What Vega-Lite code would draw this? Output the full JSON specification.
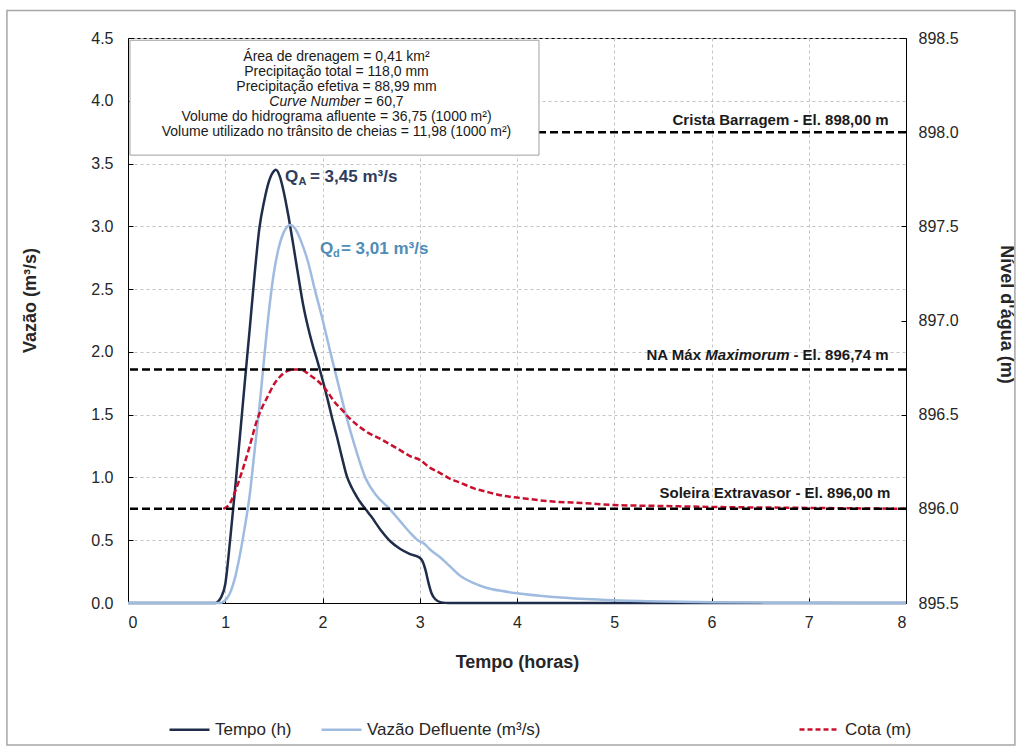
{
  "$schema": "https://vega.github.io/schema/vega-lite/v6.json",
  "width": 778,
  "height": 565,
  "autosize": {"type": "none"},
  "padding": {"left": 128, "top": 38, "right": 116, "bottom": 150},
  "background": "white",
  "config": {
    "font": "Liberation Sans",
    "view": {"stroke": "black", "strokeWidth": 1},
    "axis": {
      "labelFont": "Liberation Sans", "labelFontSize": 16, "labelColor": "#262626",
      "titleFont": "Liberation Sans", "titleFontSize": 18, "titleFontWeight": "bold", "titleColor": "#262626",
      "domainColor": "black", "domainWidth": 1, "tickColor": "black", "tickSize": -5, "tickWidth": 1,
      "gridColor": "#C4C4C4", "gridDash": [3, 3], "gridWidth": 1
    },
    "legend": {
      "labelFont": "Liberation Sans", "labelFontSize": 17, "labelColor": "#262626", "labelLimit": 400,
      "symbolType": "stroke", "symbolSize": 1600, "symbolStrokeWidth": 2.5, "labelOffset": 4
    }
  },
  "datasets": {
    "flow": [
      {"t": 0, "series": "Tempo (h)", "q": 0}, {"t": 0.9, "series": "Tempo (h)", "q": 0},
      {"t": 0.93, "series": "Tempo (h)", "q": 0.015}, {"t": 0.96, "series": "Tempo (h)", "q": 0.05},
      {"t": 1.0, "series": "Tempo (h)", "q": 0.15}, {"t": 1.05, "series": "Tempo (h)", "q": 0.5},
      {"t": 1.1, "series": "Tempo (h)", "q": 0.9}, {"t": 1.15, "series": "Tempo (h)", "q": 1.32},
      {"t": 1.2, "series": "Tempo (h)", "q": 1.75}, {"t": 1.25, "series": "Tempo (h)", "q": 2.17},
      {"t": 1.3, "series": "Tempo (h)", "q": 2.6}, {"t": 1.35, "series": "Tempo (h)", "q": 2.98},
      {"t": 1.4, "series": "Tempo (h)", "q": 3.2}, {"t": 1.45, "series": "Tempo (h)", "q": 3.36},
      {"t": 1.5, "series": "Tempo (h)", "q": 3.44}, {"t": 1.52, "series": "Tempo (h)", "q": 3.45},
      {"t": 1.56, "series": "Tempo (h)", "q": 3.4}, {"t": 1.6, "series": "Tempo (h)", "q": 3.28},
      {"t": 1.65, "series": "Tempo (h)", "q": 3.08}, {"t": 1.7, "series": "Tempo (h)", "q": 2.85},
      {"t": 1.75, "series": "Tempo (h)", "q": 2.61}, {"t": 1.8, "series": "Tempo (h)", "q": 2.38},
      {"t": 1.85, "series": "Tempo (h)", "q": 2.2}, {"t": 1.9, "series": "Tempo (h)", "q": 2.05},
      {"t": 1.95, "series": "Tempo (h)", "q": 1.92}, {"t": 2.0, "series": "Tempo (h)", "q": 1.78},
      {"t": 2.05, "series": "Tempo (h)", "q": 1.63}, {"t": 2.1, "series": "Tempo (h)", "q": 1.47},
      {"t": 2.15, "series": "Tempo (h)", "q": 1.32}, {"t": 2.2, "series": "Tempo (h)", "q": 1.16},
      {"t": 2.25, "series": "Tempo (h)", "q": 1.01}, {"t": 2.3, "series": "Tempo (h)", "q": 0.92},
      {"t": 2.35, "series": "Tempo (h)", "q": 0.85}, {"t": 2.4, "series": "Tempo (h)", "q": 0.79},
      {"t": 2.45, "series": "Tempo (h)", "q": 0.74}, {"t": 2.5, "series": "Tempo (h)", "q": 0.69},
      {"t": 2.6, "series": "Tempo (h)", "q": 0.58}, {"t": 2.7, "series": "Tempo (h)", "q": 0.49},
      {"t": 2.8, "series": "Tempo (h)", "q": 0.43}, {"t": 2.9, "series": "Tempo (h)", "q": 0.39},
      {"t": 3.0, "series": "Tempo (h)", "q": 0.36}, {"t": 3.03, "series": "Tempo (h)", "q": 0.33},
      {"t": 3.06, "series": "Tempo (h)", "q": 0.26}, {"t": 3.09, "series": "Tempo (h)", "q": 0.16},
      {"t": 3.12, "series": "Tempo (h)", "q": 0.08}, {"t": 3.16, "series": "Tempo (h)", "q": 0.03},
      {"t": 3.22, "series": "Tempo (h)", "q": 0.005}, {"t": 3.3, "series": "Tempo (h)", "q": 0},
      {"t": 8, "series": "Tempo (h)", "q": 0},
      {"t": 0, "series": "Vazão Defluente (m³/s)", "q": 0}, {"t": 0.95, "series": "Vazão Defluente (m³/s)", "q": 0},
      {"t": 0.98, "series": "Vazão Defluente (m³/s)", "q": 0.01}, {"t": 1.02, "series": "Vazão Defluente (m³/s)", "q": 0.04},
      {"t": 1.06, "series": "Vazão Defluente (m³/s)", "q": 0.1}, {"t": 1.1, "series": "Vazão Defluente (m³/s)", "q": 0.2},
      {"t": 1.15, "series": "Vazão Defluente (m³/s)", "q": 0.38}, {"t": 1.2, "series": "Vazão Defluente (m³/s)", "q": 0.6},
      {"t": 1.25, "series": "Vazão Defluente (m³/s)", "q": 0.85}, {"t": 1.3, "series": "Vazão Defluente (m³/s)", "q": 1.2},
      {"t": 1.35, "series": "Vazão Defluente (m³/s)", "q": 1.55}, {"t": 1.4, "series": "Vazão Defluente (m³/s)", "q": 1.95},
      {"t": 1.45, "series": "Vazão Defluente (m³/s)", "q": 2.33}, {"t": 1.5, "series": "Vazão Defluente (m³/s)", "q": 2.63},
      {"t": 1.55, "series": "Vazão Defluente (m³/s)", "q": 2.83}, {"t": 1.6, "series": "Vazão Defluente (m³/s)", "q": 2.95},
      {"t": 1.67, "series": "Vazão Defluente (m³/s)", "q": 3.01}, {"t": 1.72, "series": "Vazão Defluente (m³/s)", "q": 2.98},
      {"t": 1.78, "series": "Vazão Defluente (m³/s)", "q": 2.88}, {"t": 1.85, "series": "Vazão Defluente (m³/s)", "q": 2.72},
      {"t": 1.92, "series": "Vazão Defluente (m³/s)", "q": 2.5}, {"t": 2.0, "series": "Vazão Defluente (m³/s)", "q": 2.26},
      {"t": 2.08, "series": "Vazão Defluente (m³/s)", "q": 2.0}, {"t": 2.16, "series": "Vazão Defluente (m³/s)", "q": 1.75},
      {"t": 2.24, "series": "Vazão Defluente (m³/s)", "q": 1.5}, {"t": 2.34, "series": "Vazão Defluente (m³/s)", "q": 1.23},
      {"t": 2.44, "series": "Vazão Defluente (m³/s)", "q": 1.0}, {"t": 2.55, "series": "Vazão Defluente (m³/s)", "q": 0.86},
      {"t": 2.69, "series": "Vazão Defluente (m³/s)", "q": 0.75}, {"t": 2.8, "series": "Vazão Defluente (m³/s)", "q": 0.65},
      {"t": 2.9, "series": "Vazão Defluente (m³/s)", "q": 0.56}, {"t": 2.98, "series": "Vazão Defluente (m³/s)", "q": 0.5},
      {"t": 3.05, "series": "Vazão Defluente (m³/s)", "q": 0.47}, {"t": 3.1, "series": "Vazão Defluente (m³/s)", "q": 0.43},
      {"t": 3.2, "series": "Vazão Defluente (m³/s)", "q": 0.37}, {"t": 3.3, "series": "Vazão Defluente (m³/s)", "q": 0.3},
      {"t": 3.41, "series": "Vazão Defluente (m³/s)", "q": 0.22}, {"t": 3.55, "series": "Vazão Defluente (m³/s)", "q": 0.16},
      {"t": 3.69, "series": "Vazão Defluente (m³/s)", "q": 0.12}, {"t": 3.85, "series": "Vazão Defluente (m³/s)", "q": 0.095},
      {"t": 4.0, "series": "Vazão Defluente (m³/s)", "q": 0.077}, {"t": 4.34, "series": "Vazão Defluente (m³/s)", "q": 0.05},
      {"t": 4.7, "series": "Vazão Defluente (m³/s)", "q": 0.032}, {"t": 5.0, "series": "Vazão Defluente (m³/s)", "q": 0.022},
      {"t": 5.5, "series": "Vazão Defluente (m³/s)", "q": 0.012}, {"t": 6.0, "series": "Vazão Defluente (m³/s)", "q": 0.006},
      {"t": 6.5, "series": "Vazão Defluente (m³/s)", "q": 0.003}, {"t": 7.0, "series": "Vazão Defluente (m³/s)", "q": 0.001},
      {"t": 8, "series": "Vazão Defluente (m³/s)", "q": 0}
    ],
    "cota": [
      {"t": 0.98, "z": 896.0}, {"t": 1.05, "z": 896.03}, {"t": 1.1, "z": 896.09}, {"t": 1.18, "z": 896.21},
      {"t": 1.25, "z": 896.33}, {"t": 1.32, "z": 896.46}, {"t": 1.38, "z": 896.54}, {"t": 1.43, "z": 896.59},
      {"t": 1.5, "z": 896.66}, {"t": 1.56, "z": 896.7}, {"t": 1.63, "z": 896.73}, {"t": 1.7, "z": 896.74},
      {"t": 1.77, "z": 896.74}, {"t": 1.87, "z": 896.71}, {"t": 1.95, "z": 896.68}, {"t": 2.04, "z": 896.63},
      {"t": 2.12, "z": 896.57}, {"t": 2.21, "z": 896.52}, {"t": 2.28, "z": 896.48}, {"t": 2.37, "z": 896.44},
      {"t": 2.45, "z": 896.41}, {"t": 2.6, "z": 896.37}, {"t": 2.77, "z": 896.32}, {"t": 2.9, "z": 896.28},
      {"t": 3.0, "z": 896.26}, {"t": 3.1, "z": 896.22}, {"t": 3.21, "z": 896.19}, {"t": 3.31, "z": 896.16},
      {"t": 3.41, "z": 896.14}, {"t": 3.55, "z": 896.11}, {"t": 3.69, "z": 896.09}, {"t": 3.85, "z": 896.07},
      {"t": 4.0, "z": 896.06}, {"t": 4.34, "z": 896.04}, {"t": 4.7, "z": 896.03}, {"t": 5.0, "z": 896.02},
      {"t": 5.5, "z": 896.015}, {"t": 6.0, "z": 896.01}, {"t": 7.0, "z": 896.005}, {"t": 8.0, "z": 896.0}
    ],
    "levels": [
      {"z": 898.0}, {"z": 896.74}, {"z": 896.0}
    ]
  },
  "layer": [
    {
      "layer": [
        {
          "data": {"values": [{}]},
          "mark": {"type": "rect", "fillOpacity": 0, "stroke": "#A6A6A6", "strokeWidth": 1.5, "clip": false},
          "encoding": {
            "x": {"datum": -1.245, "type": "quantitative"},
            "x2": {"datum": 9.12},
            "y": {"datum": 4.72, "type": "quantitative"},
            "y2": {"datum": -1.13}
          }
        },
        {
          "data": {"name": "flow"},
          "mark": {"type": "line", "strokeWidth": 2.5, "interpolate": "monotone"},
          "encoding": {
            "x": {
              "field": "t", "type": "quantitative",
              "scale": {"domain": [0, 8], "nice": false, "zero": false},
              "axis": {
                "orient": "bottom", "title": "Tempo (horas)", "values": [0, 1, 2, 3, 4, 5, 6, 7, 8],
                "format": "d", "grid": true, "labelPadding": 16, "titleY": 59, "titleBaseline": "middle"
              }
            },
            "y": {
              "field": "q", "type": "quantitative",
              "scale": {"domain": [0, 4.5], "nice": false, "zero": false},
              "axis": {
                "orient": "left", "title": "Vazão (m³/s)", "values": [0, 0.5, 1, 1.5, 2, 2.5, 3, 3.5, 4, 4.5],
                "format": ".1f", "grid": true, "labelPadding": 20, "titleX": -98, "titleY": 262, "titleBaseline": "middle"
              }
            },
            "color": {
              "field": "series", "type": "nominal",
              "scale": {"domain": ["Tempo (h)", "Vazão Defluente (m³/s)"], "range": ["#1F2D4A", "#9FBBE0"]},
              "legend": {
                "orient": "none", "legendX": 40, "legendY": 670, "direction": "horizontal", "columns": 2,
                "columnPadding": 24, "title": null
              }
            },
            "order": {"field": "series", "sort": "descending"}
          }
        }
      ]
    },
    {
      "layer": [
        {
          "data": {"name": "cota"},
          "mark": {"type": "line", "strokeWidth": 2.5, "strokeDash": [6, 3], "interpolate": "monotone"},
          "encoding": {
            "x": {"field": "t", "type": "quantitative"},
            "y": {
              "field": "z", "type": "quantitative",
              "scale": {"domain": [895.5, 898.5], "nice": false, "zero": false},
              "axis": {
                "orient": "right", "title": "Nível d'água (m)", "values": [895.5, 896, 896.5, 897, 897.5, 898, 898.5],
                "format": ".1f", "grid": false, "labelPadding": 17, "titleX": 99, "titleY": 276, "titleBaseline": "middle"
              }
            },
            "color": {
              "datum": "Cota (m)",
              "scale": {"range": ["#C8102E"]},
              "legend": {"orient": "none", "legendX": 670, "legendY": 670, "title": null, "symbolDash": [5, 3]}
            }
          }
        },
        {
          "data": {"name": "levels"},
          "mark": {"type": "rule", "strokeWidth": 2.5, "strokeDash": [8, 4], "color": "black"},
          "encoding": {"y": {"field": "z", "type": "quantitative"}}
        },
        {
          "data": {"values": [{}]},
          "mark": {"type": "text", "align": "right", "baseline": "middle", "fontSize": 15, "fontWeight": "bold", "color": "#1a1a1a", "text": "Crista Barragem - El. 898,00 m"},
          "encoding": {"x": {"datum": 7.82, "type": "quantitative"}, "y": {"datum": 898.065, "type": "quantitative"}}
        },
        {
          "data": {"values": [{}]},
          "mark": {"type": "text", "align": "right", "baseline": "middle", "fontSize": 15, "fontWeight": "bold", "color": "#1a1a1a", "text": "- El. 896,74 m"},
          "encoding": {"x": {"datum": 7.82, "type": "quantitative"}, "y": {"datum": 896.817, "type": "quantitative"}}
        },
        {
          "data": {"values": [{}]},
          "mark": {"type": "text", "align": "right", "baseline": "middle", "fontSize": 15, "fontWeight": "bold", "fontStyle": "italic", "dx": -99, "color": "#1a1a1a", "text": "Maximorum"},
          "encoding": {"x": {"datum": 7.82, "type": "quantitative"}, "y": {"datum": 896.817, "type": "quantitative"}}
        },
        {
          "data": {"values": [{}]},
          "mark": {"type": "text", "align": "right", "baseline": "middle", "fontSize": 15, "fontWeight": "bold", "dx": -187.5, "color": "#1a1a1a", "text": "NA Máx"},
          "encoding": {"x": {"datum": 7.82, "type": "quantitative"}, "y": {"datum": 896.817, "type": "quantitative"}}
        },
        {
          "data": {"values": [{}]},
          "mark": {"type": "text", "align": "right", "baseline": "middle", "fontSize": 15, "fontWeight": "bold", "color": "#1a1a1a", "text": "Soleira Extravasor - El. 896,00 m"},
          "encoding": {"x": {"datum": 7.84, "type": "quantitative"}, "y": {"datum": 896.084, "type": "quantitative"}}
        }
      ]
    },
    {
      "data": {"values": [{}]},
      "layer": [
        {
          "mark": {"type": "rect", "fill": "white", "stroke": "#A0A0A0", "strokeWidth": 1},
          "encoding": {
            "x": {"datum": 0.02, "type": "quantitative"},
            "x2": {"datum": 4.226},
            "y": {"datum": 4.482, "type": "quantitative", "scale": {"domain": [0, 4.5], "nice": false, "zero": false}, "axis": null},
            "y2": {"datum": 3.567}
          }
        },
        {
          "mark": {"type": "text", "align": "center", "baseline": "middle", "fontSize": 14, "color": "#1a1a1a", "text": "Área de drenagem = 0,41 km²"},
          "encoding": {"x": {"datum": 2.144, "type": "quantitative"}, "y": {"datum": 4.35, "type": "quantitative"}}
        },
        {
          "mark": {"type": "text", "align": "center", "baseline": "middle", "fontSize": 14, "color": "#1a1a1a", "text": "Precipitação total = 118,0 mm"},
          "encoding": {"x": {"datum": 2.144, "type": "quantitative"}, "y": {"datum": 4.23, "type": "quantitative"}}
        },
        {
          "mark": {"type": "text", "align": "center", "baseline": "middle", "fontSize": 14, "color": "#1a1a1a", "text": "Precipitação efetiva = 88,99 mm"},
          "encoding": {"x": {"datum": 2.144, "type": "quantitative"}, "y": {"datum": 4.111, "type": "quantitative"}}
        },
        {
          "mark": {"type": "text", "align": "right", "baseline": "middle", "fontSize": 14, "fontStyle": "italic", "dx": 23.9, "color": "#1a1a1a", "text": "Curve Number"},
          "encoding": {"x": {"datum": 2.144, "type": "quantitative"}, "y": {"datum": 3.989, "type": "quantitative"}}
        },
        {
          "mark": {"type": "text", "align": "left", "baseline": "middle", "fontSize": 14, "dx": 27.8, "color": "#1a1a1a", "text": "= 60,7"},
          "encoding": {"x": {"datum": 2.144, "type": "quantitative"}, "y": {"datum": 3.989, "type": "quantitative"}}
        },
        {
          "mark": {"type": "text", "align": "center", "baseline": "middle", "fontSize": 14, "color": "#1a1a1a", "text": "Volume do hidrograma afluente = 36,75 (1000 m²)"},
          "encoding": {"x": {"datum": 2.144, "type": "quantitative"}, "y": {"datum": 3.869, "type": "quantitative"}}
        },
        {
          "mark": {"type": "text", "align": "center", "baseline": "middle", "fontSize": 14, "color": "#1a1a1a", "text": "Volume utilizado no trânsito de cheias = 11,98 (1000 m²)"},
          "encoding": {"x": {"datum": 2.144, "type": "quantitative"}, "y": {"datum": 3.75, "type": "quantitative"}}
        },
        {
          "mark": {"type": "text", "align": "left", "baseline": "middle", "fontSize": 17, "fontWeight": "bold", "color": "#2E3D5C", "text": "Q"},
          "encoding": {"x": {"datum": 1.614, "type": "quantitative"}, "y": {"datum": 3.392, "type": "quantitative"}}
        },
        {
          "mark": {"type": "text", "align": "left", "baseline": "middle", "fontSize": 11, "fontWeight": "bold", "dx": 13.5, "dy": 5, "color": "#2E3D5C", "text": "A"},
          "encoding": {"x": {"datum": 1.614, "type": "quantitative"}, "y": {"datum": 3.392, "type": "quantitative"}}
        },
        {
          "mark": {"type": "text", "align": "left", "baseline": "middle", "fontSize": 17, "fontWeight": "bold", "dx": 25, "color": "#2E3D5C", "text": "= 3,45 m³/s"},
          "encoding": {"x": {"datum": 1.614, "type": "quantitative"}, "y": {"datum": 3.392, "type": "quantitative"}}
        },
        {
          "mark": {"type": "text", "align": "left", "baseline": "middle", "fontSize": 17, "fontWeight": "bold", "color": "#4F8DB8", "text": "Q"},
          "encoding": {"x": {"datum": 1.974, "type": "quantitative"}, "y": {"datum": 2.818, "type": "quantitative"}}
        },
        {
          "mark": {"type": "text", "align": "left", "baseline": "middle", "fontSize": 11, "fontWeight": "bold", "dx": 13, "dy": 5, "color": "#4F8DB8", "text": "d"},
          "encoding": {"x": {"datum": 1.974, "type": "quantitative"}, "y": {"datum": 2.818, "type": "quantitative"}}
        },
        {
          "mark": {"type": "text", "align": "left", "baseline": "middle", "fontSize": 17, "fontWeight": "bold", "dx": 21, "color": "#4F8DB8", "text": "= 3,01 m³/s"},
          "encoding": {"x": {"datum": 1.974, "type": "quantitative"}, "y": {"datum": 2.818, "type": "quantitative"}}
        }
      ]
    }
  ],
  "resolve": {
    "scale": {"y": "independent", "color": "independent"},
    "axis": {"y": "independent"},
    "legend": {"color": "independent"}
  }
}
